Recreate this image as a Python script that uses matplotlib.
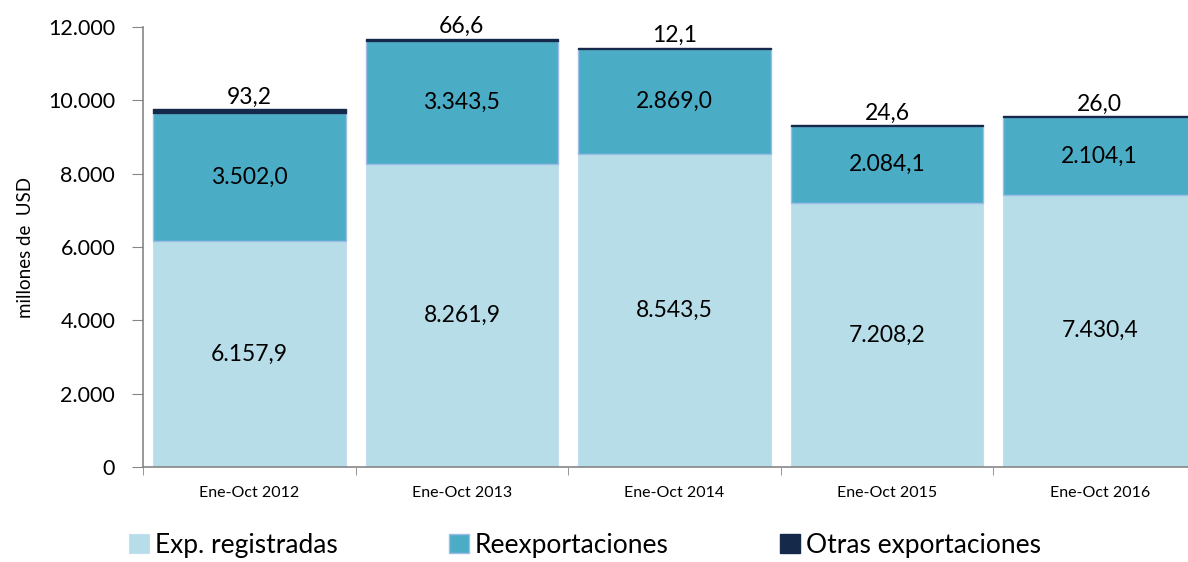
import matplotlib.pyplot as plt
import numpy as np

plt.rcParams['font.family'] = ['Lato', 'DejaVu Sans']

categories = ['Ene-Oct 2012', 'Ene-Oct 2013', 'Ene-Oct 2014', 'Ene-Oct 2015', 'Ene-Oct 2016']
exp_registradas = [6157.9, 8261.9, 8543.5, 7208.2, 7430.4]
reexportaciones = [3502.0, 3343.5, 2869.0, 2084.1, 2104.1]
otras = [93.2, 66.6, 12.1, 24.6, 26.0]

yticks = [0, 2000, 4000, 6000, 8000, 10000, 12000]
ytick_labels = ['0', '2.000', '4.000', '6.000', '8.000', '10.000', '12.000']


def fmt(v):
    s = f'{v:,.1f}'
    return s.replace(',', 'X').replace('.', ',').replace('X', '.')


c_exp = '#B7DDE8'
c_reex = '#4BACC6'
c_otras = '#15294B'

fig = plt.figure(figsize=(11.88, 5.62), dpi=100)
ax = fig.add_axes([143 / 1188, 95 / 562, 1063 / 1188, 440 / 562])

x = np.arange(len(categories))
w = 0.906
exp = np.array(exp_registradas)
reex = np.array(reexportaciones)
ot = np.array(otras)

ax.bar(x, exp, w, color=c_exp, edgecolor='#C5DDF0', linewidth=0.8, label='Exp. registradas')
ax.bar(x, reex, w, bottom=exp, color=c_reex, edgecolor='#9DBDE6', linewidth=1.0, label='Reexportaciones')
ax.bar(x, ot, w, bottom=exp + reex, color=c_otras, edgecolor=c_otras, linewidth=1.0, label='Otras exportaciones')

for i in range(len(categories)):
    ax.text(x[i], exp[i] / 2, fmt(exp[i]), ha='center', va='center', fontsize=16.5)
    ax.text(x[i], exp[i] + reex[i] / 2, fmt(reex[i]), ha='center', va='center', fontsize=16.5)
    ax.text(x[i], exp[i] + reex[i] + ot[i] + 50, fmt(ot[i]), ha='center', va='bottom', fontsize=16.5)

ax.set_xlim(-0.5, len(categories) - 0.5)
ax.set_ylim(0, 12000)
ax.set_yticks(yticks)
ax.set_yticklabels(ytick_labels, fontsize=15.5)
ax.set_xticks(x)
ax.set_xticklabels(categories, fontsize=11.5)
ax.set_xticks(np.arange(len(categories) + 1) - 0.5, minor=True)
ax.tick_params(axis='x', which='major', length=0, pad=14)
ax.tick_params(axis='x', which='minor', length=6, color='#868686', direction='out')
ax.tick_params(axis='y', length=8, color='#868686', direction='out', pad=12)

for side in ['top', 'right']:
    ax.spines[side].set_visible(False)
for side in ['left', 'bottom']:
    ax.spines[side].set_color('#868686')
    ax.spines[side].set_linewidth(1.2)

ax.set_ylabel('millones de  USD', fontsize=13.5, labelpad=10)

handles, labels = ax.get_legend_handles_labels()
fig.legend(handles, labels, loc='lower left', bbox_to_anchor=(105 / 1188, -0.035),
           ncol=3, frameon=False, fontsize=19, handlelength=0.75, handleheight=0.75,
           handletextpad=0.25, columnspacing=4.2)

fig.savefig('out.png', dpi=100)
